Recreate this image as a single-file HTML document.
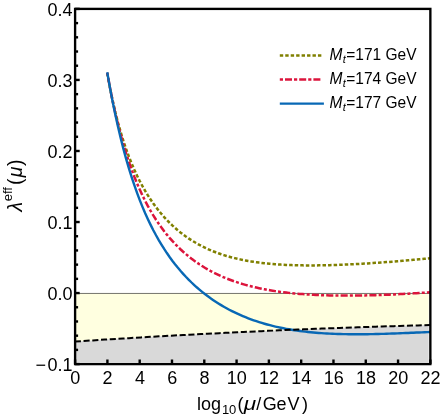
<!DOCTYPE html>
<html><head><meta charset="utf-8"><style>
html,body{margin:0;padding:0;background:#fff;}
body{width:440px;height:417px;overflow:hidden;}
svg{display:block;will-change:transform;}
text{font-family:"Liberation Sans",sans-serif;fill:#000;}
</style></head><body>
<svg width="440" height="417" viewBox="0 0 440 417">
<rect width="440" height="417" fill="#fff"/>
<path d="M74.82 341.56 L80.81 341.16 L86.81 340.77 L92.81 340.38 L98.81 340.00 L104.80 339.62 L110.80 339.25 L116.80 338.87 L122.79 338.51 L128.79 338.14 L134.79 337.78 L140.79 337.43 L146.78 337.08 L152.78 336.73 L158.78 336.39 L164.77 336.05 L170.77 335.71 L176.77 335.38 L182.77 335.06 L188.76 334.73 L194.76 334.41 L200.76 334.10 L206.75 333.79 L212.75 333.48 L218.75 333.18 L224.75 332.88 L230.74 332.59 L236.74 332.30 L242.74 332.01 L248.73 331.73 L254.73 331.45 L260.73 331.17 L266.73 330.90 L272.72 330.64 L278.72 330.38 L284.72 330.12 L290.72 329.86 L296.71 329.61 L302.71 329.37 L308.71 329.12 L314.70 328.89 L320.70 328.65 L326.70 328.42 L332.70 328.20 L338.69 327.98 L344.69 327.76 L350.69 327.54 L356.68 327.33 L362.68 327.13 L368.68 326.93 L374.68 326.73 L380.67 326.54 L386.67 326.35 L392.67 326.16 L398.66 325.98 L404.66 325.80 L410.66 325.63 L416.66 325.46 L422.65 325.30 L428.65 325.14 L428.70 293.45 L75.10 293.45 Z" fill="#ffffe0"/>
<path d="M74.82 341.56 L80.81 341.16 L86.81 340.77 L92.81 340.38 L98.81 340.00 L104.80 339.62 L110.80 339.25 L116.80 338.87 L122.79 338.51 L128.79 338.14 L134.79 337.78 L140.79 337.43 L146.78 337.08 L152.78 336.73 L158.78 336.39 L164.77 336.05 L170.77 335.71 L176.77 335.38 L182.77 335.06 L188.76 334.73 L194.76 334.41 L200.76 334.10 L206.75 333.79 L212.75 333.48 L218.75 333.18 L224.75 332.88 L230.74 332.59 L236.74 332.30 L242.74 332.01 L248.73 331.73 L254.73 331.45 L260.73 331.17 L266.73 330.90 L272.72 330.64 L278.72 330.38 L284.72 330.12 L290.72 329.86 L296.71 329.61 L302.71 329.37 L308.71 329.12 L314.70 328.89 L320.70 328.65 L326.70 328.42 L332.70 328.20 L338.69 327.98 L344.69 327.76 L350.69 327.54 L356.68 327.33 L362.68 327.13 L368.68 326.93 L374.68 326.73 L380.67 326.54 L386.67 326.35 L392.67 326.16 L398.66 325.98 L404.66 325.80 L410.66 325.63 L416.66 325.46 L422.65 325.30 L428.65 325.14 L428.70 362.40 L75.10 362.40 Z" fill="#d9d9d9"/>
<line x1="75.1" y1="293.45" x2="430.36" y2="293.45" stroke="#74746c" stroke-width="1"/>
<path d="M107.22 73.10 L109.93 87.60 L112.64 100.59 L115.35 112.28 L118.07 122.86 L120.78 132.47 L123.49 141.24 L126.20 149.27 L128.91 156.65 L131.63 163.46 L134.34 169.76 L137.05 175.61 L139.76 181.06 L142.47 186.14 L145.18 190.90 L147.90 195.35 L150.61 199.53 L153.32 203.46 L156.03 207.16 L158.74 210.65 L161.46 213.94 L164.17 217.04 L166.88 219.97 L169.59 222.74 L172.30 225.36 L175.02 227.84 L177.73 230.18 L180.44 232.40 L183.15 234.49 L185.86 236.48 L188.58 238.35 L191.29 240.13 L194.00 241.80 L196.71 243.39 L199.42 244.89 L202.14 246.30 L204.85 247.64 L207.56 248.91 L210.27 250.10 L212.98 251.22 L215.70 252.28 L218.41 253.28 L221.12 254.22 L223.83 255.10 L226.54 255.94 L229.26 256.72 L231.97 257.45 L234.68 258.14 L237.39 258.78 L240.10 259.39 L242.82 259.95 L245.53 260.48 L248.24 260.97 L250.95 261.42 L253.66 261.85 L256.38 262.24 L259.09 262.60 L261.80 262.94 L264.51 263.25 L267.22 263.53 L269.93 263.79 L272.65 264.03 L275.36 264.24 L278.07 264.44 L280.78 264.61 L283.49 264.76 L286.21 264.90 L288.92 265.02 L291.63 265.12 L294.34 265.20 L297.05 265.27 L299.77 265.33 L302.48 265.37 L305.19 265.40 L307.90 265.42 L310.61 265.42 L313.33 265.41 L316.04 265.39 L318.75 265.37 L321.46 265.33 L324.17 265.28 L326.89 265.22 L329.60 265.15 L332.31 265.07 L335.02 264.99 L337.73 264.89 L340.45 264.79 L343.16 264.68 L345.87 264.56 L348.58 264.44 L351.29 264.31 L354.01 264.17 L356.72 264.03 L359.43 263.88 L362.14 263.73 L364.85 263.57 L367.57 263.40 L370.28 263.23 L372.99 263.05 L375.70 262.87 L378.41 262.68 L381.12 262.49 L383.84 262.29 L386.55 262.09 L389.26 261.89 L391.97 261.68 L394.68 261.46 L397.40 261.24 L400.11 261.02 L402.82 260.79 L405.53 260.56 L408.24 260.33 L410.96 260.09 L413.67 259.85 L416.38 259.60 L419.09 259.35 L421.80 259.10 L424.52 258.84 L427.23 258.58 L429.94 258.32" fill="none" stroke="#808000" stroke-width="2.5" stroke-dasharray="3.5 2.06"/>
<path d="M107.22 72.77 L109.93 87.54 L112.64 101.02 L115.35 113.37 L118.07 124.70 L120.78 135.13 L123.49 144.76 L126.20 153.66 L128.91 161.92 L131.63 169.59 L134.34 176.72 L137.05 183.38 L139.76 189.61 L142.47 195.44 L145.18 200.90 L147.90 206.03 L150.61 210.86 L153.32 215.41 L156.03 219.70 L158.74 223.74 L161.46 227.57 L164.17 231.18 L166.88 234.61 L169.59 237.85 L172.30 240.92 L175.02 243.84 L177.73 246.61 L180.44 249.23 L183.15 251.73 L185.86 254.10 L188.58 256.35 L191.29 258.49 L194.00 260.53 L196.71 262.47 L199.42 264.31 L202.14 266.06 L204.85 267.73 L207.56 269.32 L210.27 270.82 L212.98 272.26 L215.70 273.63 L218.41 274.93 L221.12 276.16 L223.83 277.34 L226.54 278.45 L229.26 279.52 L231.97 280.53 L234.68 281.48 L237.39 282.40 L240.10 283.26 L242.82 284.08 L245.53 284.86 L248.24 285.60 L250.95 286.30 L253.66 286.96 L256.38 287.59 L259.09 288.19 L261.80 288.75 L264.51 289.28 L267.22 289.79 L269.93 290.26 L272.65 290.71 L275.36 291.13 L278.07 291.52 L280.78 291.90 L283.49 292.24 L286.21 292.57 L288.92 292.88 L291.63 293.16 L294.34 293.43 L297.05 293.68 L299.77 293.90 L302.48 294.12 L305.19 294.31 L307.90 294.49 L310.61 294.65 L313.33 294.80 L316.04 294.94 L318.75 295.06 L321.46 295.17 L324.17 295.26 L326.89 295.34 L329.60 295.42 L332.31 295.47 L335.02 295.52 L337.73 295.56 L340.45 295.59 L343.16 295.61 L345.87 295.61 L348.58 295.61 L351.29 295.60 L354.01 295.58 L356.72 295.55 L359.43 295.52 L362.14 295.47 L364.85 295.42 L367.57 295.36 L370.28 295.29 L372.99 295.22 L375.70 295.14 L378.41 295.05 L381.12 294.95 L383.84 294.85 L386.55 294.75 L389.26 294.63 L391.97 294.51 L394.68 294.39 L397.40 294.26 L400.11 294.12 L402.82 293.98 L405.53 293.83 L408.24 293.68 L410.96 293.52 L413.67 293.36 L416.38 293.19 L419.09 293.02 L421.80 292.84 L424.52 292.66 L427.23 292.48 L429.94 292.29" fill="none" stroke="#dc143c" stroke-width="2.5" stroke-dasharray="3 2.15 7.1 2.15"/>
<path d="M107.22 72.22 L109.93 87.50 L112.64 101.68 L115.35 114.85 L118.07 127.11 L120.78 138.53 L123.49 149.17 L126.20 159.11 L128.91 168.40 L131.63 177.09 L134.34 185.24 L137.05 192.89 L139.76 200.07 L142.47 206.83 L145.18 213.19 L147.90 219.20 L150.61 224.86 L153.32 230.22 L156.03 235.28 L158.74 240.08 L161.46 244.63 L164.17 248.95 L166.88 253.05 L169.59 256.95 L172.30 260.66 L175.02 264.20 L177.73 267.57 L180.44 270.79 L183.15 273.85 L185.86 276.78 L188.58 279.58 L191.29 282.26 L194.00 284.82 L196.71 287.27 L199.42 289.61 L202.14 291.86 L204.85 294.01 L207.56 296.06 L210.27 298.04 L212.98 299.92 L215.70 301.73 L218.41 303.47 L221.12 305.13 L223.83 306.72 L226.54 308.24 L229.26 309.70 L231.97 311.09 L234.68 312.43 L237.39 313.71 L240.10 314.93 L242.82 316.10 L245.53 317.22 L248.24 318.29 L250.95 319.31 L253.66 320.28 L256.38 321.20 L259.09 322.09 L261.80 322.93 L264.51 323.73 L267.22 324.49 L269.93 325.21 L272.65 325.90 L275.36 326.55 L278.07 327.16 L280.78 327.75 L283.49 328.30 L286.21 328.81 L288.92 329.30 L291.63 329.76 L294.34 330.19 L297.05 330.60 L299.77 330.97 L302.48 331.33 L305.19 331.65 L307.90 331.96 L310.61 332.24 L313.33 332.50 L316.04 332.74 L318.75 332.95 L321.46 333.15 L324.17 333.33 L326.89 333.49 L329.60 333.64 L332.31 333.76 L335.02 333.88 L337.73 333.97 L340.45 334.05 L343.16 334.12 L345.87 334.17 L348.58 334.21 L351.29 334.24 L354.01 334.26 L356.72 334.27 L359.43 334.26 L362.14 334.25 L364.85 334.22 L367.57 334.19 L370.28 334.15 L372.99 334.10 L375.70 334.04 L378.41 333.98 L381.12 333.91 L383.84 333.83 L386.55 333.75 L389.26 333.66 L391.97 333.57 L394.68 333.47 L397.40 333.37 L400.11 333.26 L402.82 333.15 L405.53 333.04 L408.24 332.93 L410.96 332.81 L413.67 332.69 L416.38 332.57 L419.09 332.45 L421.80 332.33 L424.52 332.20 L427.23 332.08 L429.94 331.95" fill="none" stroke="#0868b5" stroke-width="2.4"/>
<path d="M74.82 341.56 L80.84 341.16 L86.85 340.77 L92.87 340.38 L98.89 340.00 L104.91 339.61 L110.93 339.24 L116.95 338.87 L122.97 338.50 L128.99 338.13 L135.01 337.77 L141.03 337.42 L147.04 337.06 L153.06 336.71 L159.08 336.37 L165.10 336.03 L171.12 335.69 L177.14 335.36 L183.16 335.03 L189.18 334.71 L195.20 334.39 L201.22 334.08 L207.24 333.76 L213.25 333.46 L219.27 333.15 L225.29 332.85 L231.31 332.56 L237.33 332.27 L243.35 331.98 L249.37 331.70 L255.39 331.42 L261.41 331.14 L267.43 330.87 L273.44 330.61 L279.46 330.34 L285.48 330.08 L291.50 329.83 L297.52 329.58 L303.54 329.33 L309.56 329.09 L315.58 328.85 L321.60 328.62 L327.62 328.39 L333.64 328.16 L339.65 327.94 L345.67 327.72 L351.69 327.51 L357.71 327.30 L363.73 327.09 L369.75 326.89 L375.77 326.69 L381.79 326.50 L387.81 326.31 L393.83 326.13 L399.84 325.95 L405.86 325.77 L411.88 325.60 L417.90 325.43 L423.92 325.26 L429.94 325.10" fill="none" stroke="#000" stroke-width="2" stroke-dasharray="6.1 2.65"/>
<g stroke="#000" stroke-width="2.4"><line x1="75.10" y1="364.10" x2="75.10" y2="359.50"/><line x1="107.40" y1="364.10" x2="107.40" y2="359.50"/><line x1="139.69" y1="364.10" x2="139.69" y2="359.50"/><line x1="171.99" y1="364.10" x2="171.99" y2="359.50"/><line x1="204.29" y1="364.10" x2="204.29" y2="359.50"/><line x1="236.58" y1="364.10" x2="236.58" y2="359.50"/><line x1="268.88" y1="364.10" x2="268.88" y2="359.50"/><line x1="301.17" y1="364.10" x2="301.17" y2="359.50"/><line x1="333.47" y1="364.10" x2="333.47" y2="359.50"/><line x1="365.77" y1="364.10" x2="365.77" y2="359.50"/><line x1="398.06" y1="364.10" x2="398.06" y2="359.50"/><line x1="430.36" y1="364.10" x2="430.36" y2="359.50"/><line x1="75.10" y1="364.10" x2="79.70" y2="364.10"/><line x1="75.10" y1="349.89" x2="78.10" y2="349.89"/><line x1="75.10" y1="335.68" x2="78.10" y2="335.68"/><line x1="75.10" y1="321.48" x2="78.10" y2="321.48"/><line x1="75.10" y1="307.27" x2="78.10" y2="307.27"/><line x1="75.10" y1="293.06" x2="79.70" y2="293.06"/><line x1="75.10" y1="278.85" x2="78.10" y2="278.85"/><line x1="75.10" y1="264.64" x2="78.10" y2="264.64"/><line x1="75.10" y1="250.44" x2="78.10" y2="250.44"/><line x1="75.10" y1="236.23" x2="78.10" y2="236.23"/><line x1="75.10" y1="222.02" x2="79.70" y2="222.02"/><line x1="75.10" y1="207.81" x2="78.10" y2="207.81"/><line x1="75.10" y1="193.60" x2="78.10" y2="193.60"/><line x1="75.10" y1="179.40" x2="78.10" y2="179.40"/><line x1="75.10" y1="165.19" x2="78.10" y2="165.19"/><line x1="75.10" y1="150.98" x2="79.70" y2="150.98"/><line x1="75.10" y1="136.77" x2="78.10" y2="136.77"/><line x1="75.10" y1="122.56" x2="78.10" y2="122.56"/><line x1="75.10" y1="108.36" x2="78.10" y2="108.36"/><line x1="75.10" y1="94.15" x2="78.10" y2="94.15"/><line x1="75.10" y1="79.94" x2="79.70" y2="79.94"/><line x1="75.10" y1="65.73" x2="78.10" y2="65.73"/><line x1="75.10" y1="51.52" x2="78.10" y2="51.52"/><line x1="75.10" y1="37.32" x2="78.10" y2="37.32"/><line x1="75.10" y1="23.11" x2="78.10" y2="23.11"/><line x1="75.10" y1="8.90" x2="79.70" y2="8.90"/></g>
<rect x="75.1" y="8.9" width="355.26" height="355.20" fill="none" stroke="#000" stroke-width="2.35"/>
<g font-size="18"><text x="75.30" y="384.0" text-anchor="middle">0</text><text x="107.60" y="384.0" text-anchor="middle">2</text><text x="139.89" y="384.0" text-anchor="middle">4</text><text x="172.19" y="384.0" text-anchor="middle">6</text><text x="204.49" y="384.0" text-anchor="middle">8</text><text x="236.78" y="384.0" text-anchor="middle">10</text><text x="269.08" y="384.0" text-anchor="middle">12</text><text x="301.37" y="384.0" text-anchor="middle">14</text><text x="333.67" y="384.0" text-anchor="middle">16</text><text x="365.97" y="384.0" text-anchor="middle">18</text><text x="398.26" y="384.0" text-anchor="middle">20</text><text x="430.56" y="384.0" text-anchor="middle">22</text><text x="72.6" y="370.80" text-anchor="end">0.1</text><text x="72.6" y="299.76" text-anchor="end">0.0</text><text x="72.6" y="228.72" text-anchor="end">0.1</text><text x="72.6" y="157.68" text-anchor="end">0.2</text><text x="72.6" y="86.64" text-anchor="end">0.3</text><text x="72.6" y="15.60" text-anchor="end">0.4</text><text x="35.6" y="370.80">−</text></g>
<!-- legend -->
<line x1="279.8" y1="55.5" x2="323" y2="55.5" stroke="#808000" stroke-width="2.5" stroke-dasharray="3.4 2.05"/>
<line x1="279.8" y1="79.6" x2="321.8" y2="79.6" stroke="#dc143c" stroke-width="2.5" stroke-dasharray="3.2 2 7 2"/>
<line x1="279.8" y1="103.7" x2="323.9" y2="103.7" stroke="#0868b5" stroke-width="2.3"/>
<g font-size="15.5">
<g transform="translate(0,59.6) scale(1,1.06)"><text x="329.6" y="0" font-style="italic">M</text><text x="342.7" y="2.8" font-style="italic" font-size="11">t</text><text x="346.3" y="0">=171 GeV</text></g>
<g transform="translate(0,83.7) scale(1,1.06)"><text x="329.6" y="0" font-style="italic">M</text><text x="342.7" y="2.8" font-style="italic" font-size="11">t</text><text x="346.3" y="0">=174 GeV</text></g>
<g transform="translate(0,107.8) scale(1,1.06)"><text x="329.6" y="0" font-style="italic">M</text><text x="342.7" y="2.8" font-style="italic" font-size="11">t</text><text x="346.3" y="0">=177 GeV</text></g>
</g>
<!-- x label -->
<g font-size="18"><text x="197" y="410">log</text><text x="221.9" y="414" font-size="13">10</text><text x="237.4" y="410">(</text><text transform="translate(243.7,410) scale(1.13,0.94)" x="0" y="0" font-style="italic" font-size="20">μ</text><text x="256.3" y="410">/</text><text transform="translate(0,410) scale(1,1.06)" x="262.7 276.6 287.6 302.1" y="0">GeV)</text></g>
<!-- y label -->
<g transform="translate(21.6,211.6) rotate(-90)" font-size="19.5"><text x="0" y="0" font-style="italic">λ</text><text x="10.3" y="-9.8" font-size="13">eff</text><text x="26.6" y="0">(</text><text x="34.3" y="0" font-style="italic">μ</text><text x="45.7" y="0">)</text></g>
</svg>
</body></html>
